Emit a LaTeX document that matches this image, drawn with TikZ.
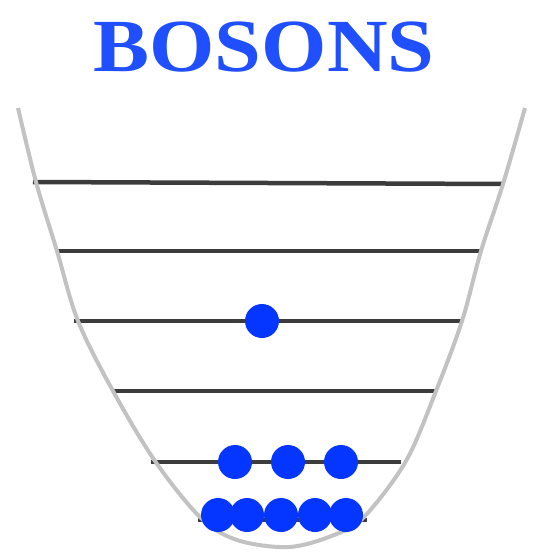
\documentclass[tikz,border=0pt]{standalone}
\usepackage{graphicx}
\usepackage{fontspec}
\setmainfont{Liberation Serif}
\usepackage{tikz}
\usetikzlibrary{positioning}
\definecolor{bblue}{HTML}{0536FF}
\definecolor{btitle}{HTML}{1F4FFF}
\definecolor{bwell}{HTML}{C2C2C2}
\definecolor{blevel}{HTML}{3C3C3C}
\tikzset{
  level/.style={blevel, line width=4.5pt},
  well/.style={bwell, line width=4pt},
  boson/.style={circle, fill=bblue, inner sep=0pt, minimum size=34pt},
}

\begin{document}
\begin{tikzpicture}[x=1pt, y=-1pt]
  \useasboundingbox (0,0) rectangle (534,554);

  %% Title
  \node[anchor=base, text=btitle, inner sep=0pt, font=\fontsize{75}{75}\selectfont\bfseries]
    (title) at (264,71) {\scalebox{1.12}[1]{BOSONS}};

  %% Energy levels
  \draw[level] (33,182) -- (504,184);
  \foreach \y/\l/\r in {251/57/480, 321/74/461, 391/113/436, 462/151/401, 520/198/367}{
    \draw[level] (\l,\y) -- (\r,\y);
  }

  %% Potential well
  \draw[well] plot[smooth, tension=0.55] coordinates {
    (18,108) (36,182) (57,251) (78,321) (113,391) (155,461)
    (200,517) (237,540) (289,547) (334,535) (364,517)
    (406,461) (436,391) (462,321) (481,251) (503,184) (525,108)
  };

  %% Particles
  \node[boson] (p1) at (262,321) {};
  \foreach \x [count=\i] in {235,288,341}{
    \node[boson] (q\i) at (\x,462) {};
  }
  \foreach \x [count=\i] in {218,247,281,315,346}{
    \node[boson] (g\i) at (\x,515) {};
  }
\end{tikzpicture}
\end{document}
